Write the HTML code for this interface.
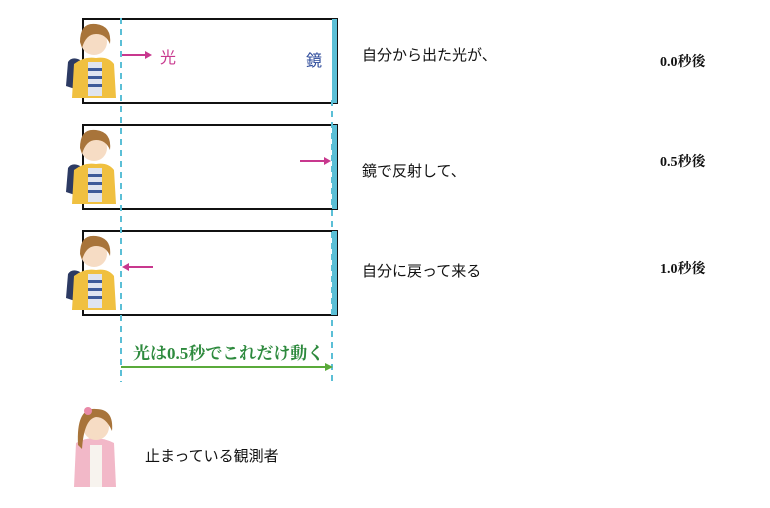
<!DOCTYPE html>
<html><head><meta charset="utf-8"><style>
body{margin:0;background:#fff;width:770px;height:503px;overflow:hidden}
text{font-family:"Liberation Sans","Noto Sans CJK JP",sans-serif}
.serif{font-family:"Liberation Serif","Noto Serif CJK SC",serif}
</style></head><body>
<svg width="770" height="503" viewBox="0 0 770 503" xmlns="http://www.w3.org/2000/svg">
<defs>
<g id="boy">
 <path d="M-14,58 L-12,34 Q-8,28 0,32 L-2,62 Z" fill="#2c3a63"/>
 <path d="M-8,70 L-6,36 Q4,28 16,30 Q28,28 34,36 L36,70 Z" fill="#f0c040"/>
 <rect x="8" y="34" width="14" height="34" fill="#dfe4f0"/>
 <rect x="8" y="40" width="14" height="3" fill="#3d5a9a"/><rect x="8" y="48" width="14" height="3" fill="#3d5a9a"/><rect x="8" y="56" width="14" height="3" fill="#3d5a9a"/>
 <circle cx="14" cy="14" r="13" fill="#f6dcc4"/>
 <path d="M0,14 Q0,-6 16,-4 Q32,-2 30,16 Q26,6 16,6 Q6,6 2,20 Z" fill="#a8743a"/>
</g>
</defs>
<g fill="none" stroke="#111" stroke-width="2">
 <rect x="83" y="19" width="254" height="84"/>
 <rect x="83" y="125" width="254" height="84"/>
 <rect x="83" y="231" width="254" height="84"/>
</g>
<g fill="#5bbfd6">
 <rect x="332" y="19" width="5" height="84"/>
 <rect x="332" y="125" width="5" height="84"/>
 <rect x="332" y="231" width="5" height="84"/>
</g>
<use href="#boy" x="80" y="28"/>
<use href="#boy" x="80" y="134"/>
<use href="#boy" x="80" y="240"/>
<g stroke="#5bbfd6" stroke-width="2" stroke-dasharray="6,5">
 <line x1="121" y1="18" x2="121" y2="382"/>
 <line x1="332" y1="100" x2="332" y2="382"/>
</g>
<g stroke="#c8388e" stroke-width="2" fill="#c8388e">
 <line x1="122" y1="55" x2="146" y2="55"/><path d="M152,55 L145,51 L145,59Z" stroke="none"/>
 <line x1="300" y1="161" x2="325" y2="161"/><path d="M331,161 L324,157 L324,165Z" stroke="none"/>
 <line x1="128" y1="267" x2="153" y2="267"/><path d="M122,267 L129,263 L129,271Z" stroke="none"/>
</g>
<g stroke="#5aaa3a" stroke-width="2" fill="#5aaa3a">
 <line x1="121" y1="367" x2="326" y2="367"/><path d="M333,367 L325,363 L325,371Z" stroke="none"/>
</g>
<text x="160" y="63" font-size="16" fill="#c8388e">光</text>
<text x="306" y="66" font-size="16" fill="#2c4a9a">鏡</text>
<text x="133" y="359" font-size="17" fill="#2e8a3e" font-weight="bold" class="serif">光は0.5秒でこれだけ動く</text>
<g font-size="15" fill="#111">
 <text x="362" y="60">自分から出た光が、</text>
 <text x="362" y="176">鏡で反射して、</text>
 <text x="362" y="276">自分に戻って来る</text>
 <text x="145" y="461">止まっている観測者</text>
</g>
<g font-size="14" fill="#111" font-weight="bold">
 <text class="serif" x="660" y="66">0.0秒後</text>
 <text class="serif" x="660" y="166">0.5秒後</text>
 <text class="serif" x="660" y="273">1.0秒後</text>
</g>
<g transform="translate(72,405)">
 <path d="M2,82 L4,38 Q22,28 42,38 L44,82 Z" fill="#f2b8c8"/>
 <rect x="18" y="40" width="12" height="42" fill="#f7f3ee"/>
 <circle cx="24" cy="22" r="13" fill="#f6dcc4"/>
 <path d="M6,40 Q4,2 24,4 Q42,4 40,26 Q34,12 24,12 Q12,14 10,44 Z" fill="#a8743a"/>
 <circle cx="16" cy="6" r="4" fill="#e98aa8"/>
</g>
</svg>
</body></html>
